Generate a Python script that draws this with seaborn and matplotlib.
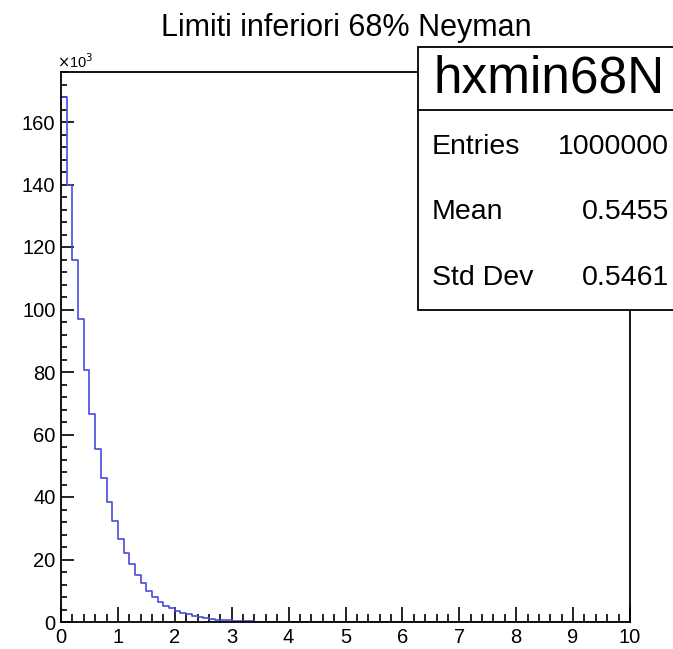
import numpy as np
import pandas as pd
import seaborn as sns
import matplotlib
matplotlib.use("Agg")
import matplotlib.pyplot as plt
from matplotlib.ticker import MultipleLocator
from matplotlib.patches import Rectangle
from matplotlib.lines import Line2D

# ---- data (counts in thousands, 100 bins from 0 to 10) ----
title = "Limiti inferiori 68% Neyman"
hist_name = "hxmin68N"
stat_labels = ["Entries", "Mean", "Std Dev"]
stat_values = ["1000000", "0.5455", "0.5461"]
n_bins = 100
x_range = (0.0, 10.0)
counts_k = [168, 140, 116, 97, 80.5, 66.5, 55.5, 46.0, 38.3, 32.3,
            26.5, 22.2, 18.6, 15.0, 12.6, 10.0, 8.1, 6.3, 5.1, 4.4,
            3.5, 3.0, 2.5, 2.0, 1.6, 1.3, 1.0, 0.8, 0.6, 0.5,
            0.4, 0.3, 0.25, 0.2, 0.16, 0.13, 0.1, 0.08, 0.07, 0.06,
            0.05, 0.04, 0.03, 0.02, 0.02]
counts_k = counts_k + [0.0] * (n_bins - len(counts_k))

edges = np.linspace(x_range[0], x_range[1], n_bins + 1)
centers = (edges[:-1] + edges[1:]) / 2
df = pd.DataFrame({"x": centers, "w": counts_k})

sns.set_style("ticks")
plt.rcParams["font.family"] = ["Liberation Sans", "DejaVu Sans"]
plt.rcParams["text.color"] = "black"
plt.rcParams["xtick.color"] = "black"
plt.rcParams["ytick.color"] = "black"

W, H = 673, 649
fig = plt.figure(figsize=(W / 100, H / 100), dpi=100)
L, R, B, T = 61, 630, 622, 72
ax = fig.add_axes([L / W, 1 - B / H, (R - L) / W, (B - T) / H])

sns.histplot(data=df, x="x", weights="w", bins=n_bins, binrange=x_range,
             element="step", fill=False, color="#4a4ade", linewidth=1.2,
             ax=ax)

ax.set_xlim(0, 10)
ax.set_ylim(0, 176)
ax.set_xlabel("")
ax.set_ylabel("")
ax.xaxis.set_major_locator(MultipleLocator(1))
ax.xaxis.set_minor_locator(MultipleLocator(0.2))
ax.yaxis.set_major_locator(MultipleLocator(20))
ax.yaxis.set_minor_locator(MultipleLocator(4))
ax.tick_params(axis="both", which="both", direction="in", color="black",
               width=1.2, top=False, right=False)
ax.tick_params(axis="both", which="major", labelsize=14.5,
               labelcolor="black")
ax.tick_params(axis="x", which="major", length=11, pad=4)
ax.tick_params(axis="x", which="minor", length=6)
ax.tick_params(axis="y", which="major", length=9, pad=4)
ax.tick_params(axis="y", which="minor", length=4.5)
for s in ax.spines.values():
    s.set_visible(True)
    s.set_color("black")
    s.set_linewidth(1.3)
ax.set_facecolor("white")
ax.grid(False)

# x10^3 multiplier
fig.text(57 / W, 1 - 62 / H, r"$\times$10$^{3}$", fontsize=10.5,
         ha="left", va="center", color="black")

# title
fig.text(346 / W, 1 - 28 / H, title, fontsize=22, ha="center", va="center",
         color="black")

# stats box
bx0, by0, bx1, by1, bsep = 418, 47, 690, 310, 110
fig.patches.append(Rectangle((bx0 / W, 1 - by1 / H), (bx1 - bx0) / W,
                             (by1 - by0) / H, transform=fig.transFigure,
                             facecolor="white", edgecolor="black",
                             linewidth=1.3, zorder=5))
fig.lines.append(Line2D([bx0 / W, bx1 / W], [1 - bsep / H, 1 - bsep / H],
                        transform=fig.transFigure, color="black",
                        linewidth=1.3, zorder=6))
fig.text(549 / W, 1 - 79 / H, hist_name, fontsize=37, ha="center",
         va="center", zorder=7, color="black")
row_y = [147, 212, 278]
for lab, val, yy in zip(stat_labels, stat_values, row_y):
    fig.text(432 / W, 1 - yy / H, lab, fontsize=20.5, ha="left",
             va="center", zorder=7, color="black")
    fig.text(669 / W, 1 - yy / H, val, fontsize=20.5, ha="right",
             va="center", zorder=7, color="black")

fig.savefig("out.png", dpi=100, facecolor="white")
